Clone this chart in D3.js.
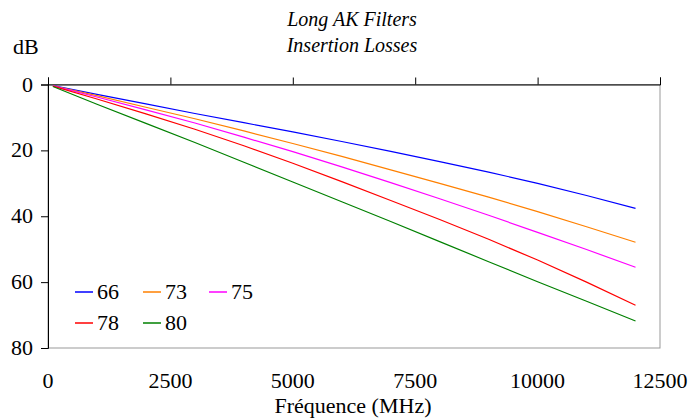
<!DOCTYPE html>
<html>
<head>
<meta charset="utf-8">
<script src="https://cdn.jsdelivr.net/npm/d3@7"></script>
</head>
<body style="margin:0">
<script>
// frequencies in MHz
let freqs = [100, 1000, 2000, 3000, 4000, 5000, 6000, 7000, 8000, 9000, 10000, 11000, 12000];
// insertion losses (dB) per filter
let loss66 = [0.3, 3.0, 5.9, 8.8, 11.6, 14.4, 17.3, 20.3, 23.4, 26.6, 30.0, 33.7, 37.6];
let loss73 = [0.4, 3.4, 6.9, 10.4, 14.1, 17.9, 21.8, 25.9, 30.0, 34.2, 38.6, 43.2, 47.9];
let loss75 = [0.4, 3.8, 7.7, 11.7, 16.0, 20.4, 25.0, 29.8, 34.7, 39.7, 44.9, 50.1, 55.5];
let loss78 = [0.5, 4.4, 8.9, 13.6, 18.6, 23.9, 29.5, 35.2, 41.0, 47.0, 53.3, 60.0, 67.0];
let loss80 = [0.6, 6.0, 11.8, 17.6, 23.6, 29.6, 35.6, 41.6, 47.7, 53.8, 59.9, 65.8, 71.8];

let seriesNames = ['66', '73', '75', '78', '80'];
let seriesColors = ['#0000ff', '#ff8000', '#ff00ff', '#ff0000', '#008000'];
let seriesValues = [loss66, loss73, loss75, loss78, loss80];

let xTicks = [0, 2500, 5000, 7500, 10000, 12500];
let yTicks = [0, 20, 40, 60, 80];

let font = "'Liberation Serif'";

let svg = d3.select('body').append('svg').attr('width', 688).attr('height', 419)
  .style('font-family', font);

let x = d3.scaleLinear().domain([0, 12500]).range([48, 660]);
let y = d3.scaleLinear().domain([0, 80]).range([84.5, 348]);

// plot area border
svg.append('rect')
  .attr('x', 48).attr('y', 84.5)
  .attr('width', 612).attr('height', 263.5)
  .attr('fill', 'none').attr('stroke', '#999').attr('stroke-width', 1);

// x axis at top (value 0)
svg.append('g')
  .attr('transform', 'translate(0,' + y(0) + ')')
  .call(d3.axisTop(x).tickValues(xTicks).tickFormat('').tickSizeOuter(0).tickSize(7))
  .call(g => g.selectAll('path, line').attr('stroke', '#000'));

// y axis
svg.append('g')
  .attr('transform', 'translate(' + x(0) + ',0)')
  .call(d3.axisLeft(y).tickValues(yTicks).tickFormat('').tickSizeOuter(0).tickSize(7))
  .call(g => g.selectAll('path, line').attr('stroke', '#000'));

// tick labels
svg.selectAll('.xl').data(xTicks).enter().append('text')
  .attr('x', d => x(d)).attr('y', 388)
  .attr('text-anchor', 'middle').attr('font-size', '22px').style('font-family', font)
  .text(d => d);

svg.selectAll('.yl').data(yTicks).enter().append('text')
  .attr('x', 33).attr('y', d => y(d) + 7)
  .attr('text-anchor', 'end').attr('font-size', '22px').style('font-family', font)
  .text(d => d);

// lines
let line = d3.line().x((d, i) => x(freqs[i])).y(d => y(d));
svg.selectAll('.series').data(seriesValues).enter().append('path')
  .attr('d', d => line(d))
  .attr('fill', 'none')
  .attr('stroke', (d, i) => seriesColors[i])
  .attr('stroke-width', 1.2);

// titles
svg.append('text').attr('x', 352).attr('y', 26).attr('text-anchor', 'middle')
  .attr('font-size', '20px').style('font-family', font).attr('font-style', 'italic').text('Long AK Filters');
svg.append('text').attr('x', 352).attr('y', 52).attr('text-anchor', 'middle')
  .attr('font-size', '20px').style('font-family', font).attr('font-style', 'italic').text('Insertion Losses');
svg.append('text').attr('x', 13).attr('y', 54)
  .attr('font-size', '22px').style('font-family', font).text('dB');
svg.append('text').attr('x', 353).attr('y', 413).attr('text-anchor', 'middle')
  .attr('font-size', '22px').style('font-family', font).text('Fréquence (MHz)');

// legend
let legendPos = [[75, 292], [143, 292], [209, 292], [75, 323], [143, 323]];
let legend = svg.selectAll('.leg').data(seriesNames).enter().append('g')
  .attr('transform', (d, i) => 'translate(' + legendPos[i][0] + ',' + legendPos[i][1] + ')');
legend.append('line').attr('x1', 0).attr('x2', 18).attr('y1', 0).attr('y2', 0)
  .attr('stroke', (d, i) => seriesColors[i]).attr('stroke-width', 1.5);
legend.append('text').attr('x', 22).attr('y', 7)
  .attr('font-size', '22px').style('font-family', font).text(d => d);
</script>
</body>
</html>
